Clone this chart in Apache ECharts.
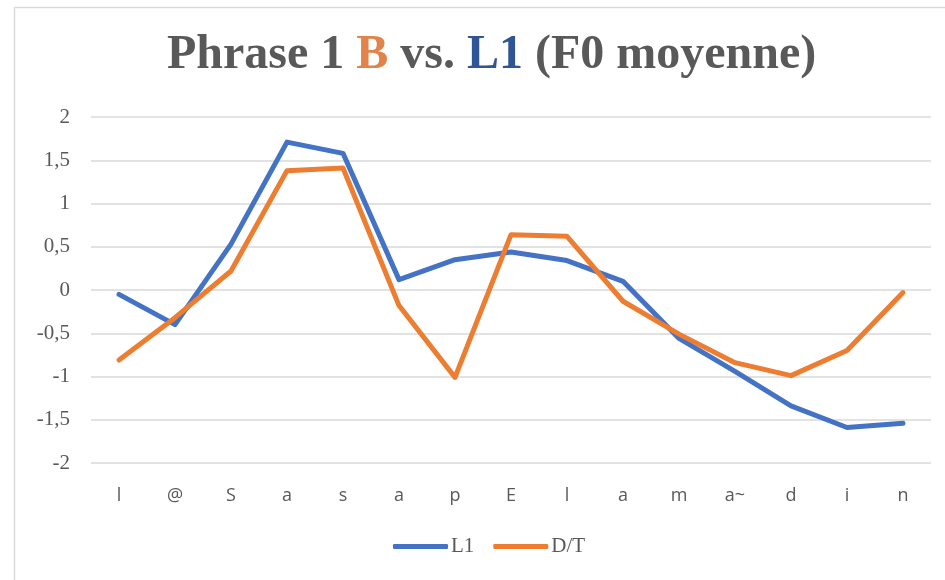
<!DOCTYPE html>
<html>
<head>
<meta charset="utf-8">
<script src="https://cdn.jsdelivr.net/npm/echarts@6/dist/echarts.min.js"></script>
<style>
  html, body { margin: 0; padding: 0; background: #fff; }
  #chart { width: 945px; height: 580px; }
</style>
</head>
<body>
<div id="chart"></div>
<script>
// Data
var categories = ['l', '@', 'S', 'a', 's', 'a', 'p', 'E', 'l', 'a', 'm', 'a~', 'd', 'i', 'n'];
var l1Values = [-0.05, -0.40, 0.53, 1.71, 1.58, 0.12, 0.35, 0.44, 0.34, 0.10, -0.56, -0.94, -1.34, -1.59, -1.54];
var dtValues = [-0.81, -0.32, 0.22, 1.38, 1.41, -0.18, -1.01, 0.64, 0.62, -0.13, -0.51, -0.84, -0.99, -0.70, -0.03];

var textGray = '#595959';
var serif = '"Liberation Serif", "DejaVu Serif", serif';

var chart = echarts.init(document.getElementById('chart'), null, { renderer: 'canvas' });

var options = {
    animation: false,
    backgroundColor: '#fff',

    // Chart frame
    graphic: [{
        type: 'rect',
        shape: { x: 14.5, y: 7.5, width: 960, height: 600 },
        style: { fill: 'none', stroke: '#d9d9d9', lineWidth: 1.5 },
        silent: true
    }],

    title: {
        text: '{g|Phrase 1 }{o|B}{g| vs. }{b|L1}{g| (F0 moyenne)}',
        left: 162,
        top: 27,
        textStyle: {
            rich: {
                g: { fontFamily: serif, fontWeight: 'bold', fontSize: 48, color: textGray },
                o: { fontFamily: serif, fontWeight: 'bold', fontSize: 48, color: '#E2834A' },
                b: { fontFamily: serif, fontWeight: 'bold', fontSize: 48, color: '#2F5597' }
            }
        }
    },

    legend: {
        bottom: 18,
        left: 388,
        itemWidth: 55,
        itemHeight: 5,
        itemGap: 19,
        icon: 'roundRect',
        textStyle: { fontFamily: serif, fontSize: 21, color: textGray, padding: [0, 0, 0, -2] },
        data: ['L1', 'D/T']
    },

    grid: {
        left: 91,
        right: 14,
        top: 117,
        bottom: 117
    },

    xAxis: {
        type: 'category',
        data: categories,
        boundaryGap: true,
        axisLine: { show: false },
        axisTick: { show: false },
        axisLabel: {
            margin: 24,
            fontFamily: '"Open Sans", "Noto Sans", sans-serif',
            fontSize: 18,
            color: textGray
        }
    },

    yAxis: {
        type: 'value',
        min: -2,
        max: 2,
        interval: 0.5,
        axisLine: { show: false },
        axisTick: { show: false },
        splitLine: { lineStyle: { color: '#d9d9d9', width: 1.5 } },
        axisLabel: {
            margin: 21,
            fontFamily: serif,
            fontSize: 21,
            color: textGray,
            formatter: function (v) { return String(v).replace('.', ','); }
        }
    },

    series: [
        {
            name: 'L1',
            type: 'line',
            data: l1Values,
            symbol: 'none',
            color: '#4472C4',
            lineStyle: { width: 5, color: '#4472C4', cap: 'round', join: 'round' }
        },
        {
            name: 'D/T',
            type: 'line',
            data: dtValues,
            symbol: 'none',
            color: '#ED7D31',
            lineStyle: { width: 5, color: '#ED7D31', cap: 'round', join: 'round' }
        }
    ]
};

chart.setOption(options);
</script>
</body>
</html>
